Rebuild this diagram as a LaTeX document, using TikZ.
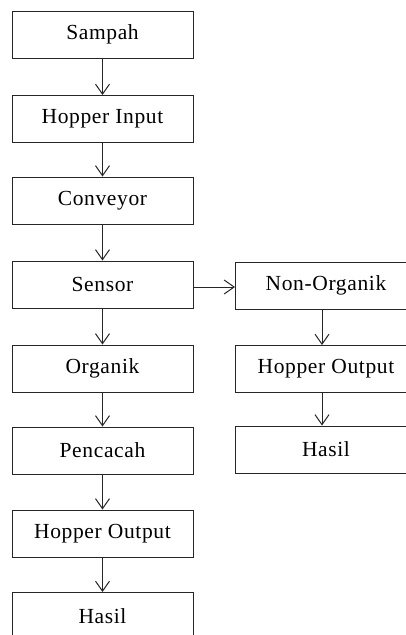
\documentclass[tikz,border=0pt]{standalone}
\usepackage{fontspec}
\setmainfont{Liberation Serif}[LetterSpace=3]
\usetikzlibrary{arrows.meta}
\begin{document}
\begin{tikzpicture}[x=1pt,y=-1pt,
  box/.style={draw=black!85, line width=1pt, minimum width=181pt, minimum height=47pt,
    inner sep=0pt, font=\fontsize{21.5}{24}\selectfont, text=black},
  arr/.style={draw=black!85, line width=1pt, -{Straight Barb[length=10pt,width=14pt,line width=1pt]}}]
\useasboundingbox (0,0) rectangle (406,635);
\clip (0,0) rectangle (406,635);
\fill[white] (0,0) rectangle (406,635);
% left column
\node[box] (sampah) at (102.5,34.5) {Sampah};
\node[box] (hin) at (102.5,119) {Hopper Input};
\node[box] (conv) at (102.5,200.5) {Conveyor};
\node[box] (sensor) at (102.5,284.5) {Sensor};
\node[box] (org) at (102.5,368.5) {Organik};
\node[box] (penc) at (102.5,450.5) {Pencacah};
\node[box] (hout) at (102.5,533.5) {Hopper Output};
\node[box] (hasil) at (102.5,616) {Hasil};
% right column
\node[box] (non) at (326,285.5) {Non-Organik};
\node[box] (hout2) at (326,369) {Hopper Output};
\node[box] (hasil2) at (326,449.5) {Hasil};
% arrows
\draw[arr] (sampah) -- (hin);
\draw[arr] (hin) -- (conv);
\draw[arr] (conv) -- (sensor);
\draw[arr] (sensor) -- (org);
\draw[arr] (org) -- (penc);
\draw[arr] (penc) -- (hout);
\draw[arr] (hout) -- (hasil);
\draw[arr] ([yshift=-2.5pt]sensor.east) -- ([yshift=-2.5pt]sensor.east -| non.west);
\draw[arr] ([xshift=-4pt]non.south) -- ([xshift=-4pt]hout2.north);
\draw[arr] ([xshift=-4pt]hout2.south) -- ([xshift=-4pt]hasil2.north);
\end{tikzpicture}
\end{document}
